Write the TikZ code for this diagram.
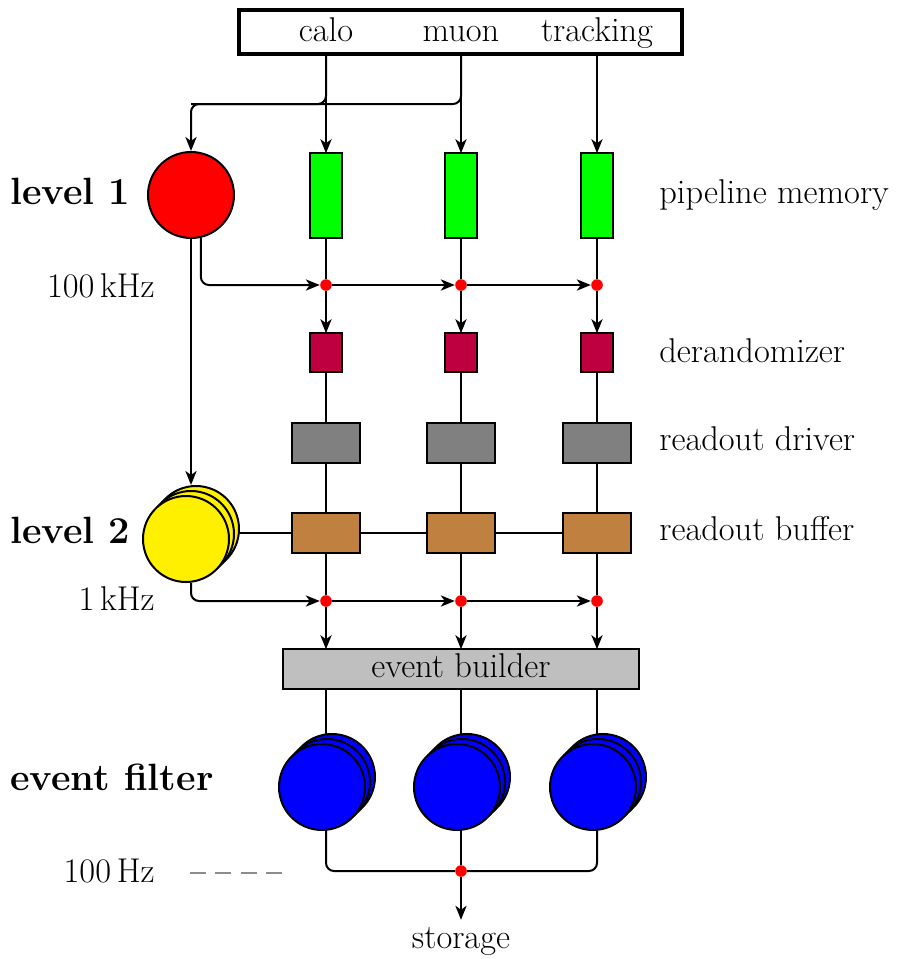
\documentclass[tikz,border=0pt]{standalone}
\usetikzlibrary{arrows.meta,shadows,backgrounds}
\definecolor{memgreen}{rgb}{0,1,0}
\definecolor{derandcol}{rgb}{0.75,0,0.25}
\definecolor{drivergray}{rgb}{0.5,0.5,0.5}
\definecolor{bufferbrown}{rgb}{0.75,0.5,0.25}
\definecolor{buildergray}{rgb}{0.75,0.75,0.75}
\definecolor{lvltwo}{rgb}{1,0.94,0}
\definecolor{filterblue}{rgb}{0,0,1}
\begin{document}
\begin{tikzpicture}[x=0.5pt,y=-0.5pt,
  font=\fontsize{17.2}{21}\selectfont,
  wire/.style={line width=1pt},
  flow/.style={wire,-{Stealth[length=7pt,width=5.6pt,inset=2pt]}},
  unit/.style={draw,line width=1.2pt,inner sep=0pt,outer sep=0pt},
  membox/.style={unit,fill=memgreen,minimum width=15.8pt,minimum height=42.3pt},
  derbox/.style={unit,fill=derandcol,minimum width=15.8pt,minimum height=19.3pt},
  rodbox/.style={unit,fill=drivergray,minimum width=33.8pt,minimum height=19.8pt},
  robbox/.style={unit,fill=bufferbrown,minimum width=33.8pt,minimum height=19.8pt},
  junction/.style={circle,fill=red,inner sep=0pt,minimum size=5.8pt},
  stagelabel/.style={anchor=base west,inner sep=0pt,font=\fontsize{19}{23}\selectfont\bfseries},
  rightlabel/.style={anchor=base west,inner sep=0pt},
  ratelabel/.style={anchor=base east,inner sep=0pt},
  trigger/.style={circle,draw,line width=1pt,minimum size=43pt,inner sep=0pt,fill=#1},
  farm/.style={trigger=#1,
    double copy shadow={shadow xshift=2.5pt,shadow yshift=2.5pt,
      fill=#1,draw=black,line width=1pt}},
]
\useasboundingbox (0,0) rectangle (896,959);

% detector sources
\node[draw,line width=2pt,minimum width=221.5pt,minimum height=22pt,inner sep=0pt] (src) at (460.5,32) {};
\node[anchor=base] (calo) at (326,41) {calo};
\node[anchor=base] (muon) at (461,41) {muon};
\node[anchor=base] (tracking) at (597,41) {tracking};

% trigger levels
\node[trigger=red] (l1) at (191,195) {};
\node[farm=lvltwo] (l2) at (186,539) {};
\coordinate (l2top) at (191,485);
\coordinate (fork) at (461,104);

% readout chain, one column per detector
\foreach \c/\x in {1/326,2/461,3/597}{
  \node[membox] (pm\c) at (\x,195.5) {};
  \node[junction] (da\c) at (\x,285) {};
  \node[derbox] (dr\c) at (\x,352.5) {};
  \node[rodbox] (rd\c) at (\x,443) {};
  \node[robbox] (rb\c) at (\x,533) {};
  \node[junction] (db\c) at (\x,601) {};
  \node[farm=filterblue] (ef\c) at (\x-4,787) {};
}
\node[unit,fill=buildergray,minimum width=177.8pt,minimum height=19.8pt,
  text height=12pt,text depth=3.5pt] (eb) at (461,669) {event builder};
\node[junction] (out) at (461,871) {};
\node[anchor=base] (storage) at (461,948) {storage};

% labels
\node[stagelabel] (t1) at (10,204) {level 1};
\node[stagelabel] (t2) at (10,543) {level 2};
\node[stagelabel] (t3) at (10,790) {event filter};
\node[ratelabel] (r1) at (155,297) {100\,kHz};
\node[ratelabel] (r2) at (155,610) {1\,kHz};
\node[ratelabel] (r3) at (155,882) {100\,Hz};
\node[rightlabel] (n1) at (659,203) {pipeline memory};
\node[rightlabel] (n2) at (659,362) {derandomizer};
\node[rightlabel] (n3) at (659,450) {readout driver};
\node[rightlabel] (n4) at (659,540) {readout buffer};
\coordinate (dashA) at (190,873);
\coordinate (dashB) at (282,873);

\begin{pgfonlayer}{background}
  % sources to level 1 and pipelines
  \draw[flow,rounded corners=4pt] (src.south -| muon) -- (fork) -| (l1.north);
  \draw[wire,rounded corners=4pt] (src.south -| calo) |- (fork -| l1);
  \draw[flow] (src.south -| calo) -- (pm1);
  \draw[flow] (src.south -| muon) -- (pm2);
  \draw[flow] (src.south -| tracking) -- (pm3);
  % level 1 accept
  \draw[flow,rounded corners=4pt] (l1.-77) |- (da1);
  \draw[flow] (da1) -- (da2);
  \draw[flow] (da2) -- (da3);
  \draw[flow] (l1.south) -- (l2top);
  % level 2
  \draw[wire] (rb1 -| l2) -- (rb1);
  \draw[wire] (rb1) -- (rb2);
  \draw[wire] (rb2) -- (rb3);
  \draw[flow,rounded corners=4pt] (l2top |- l2.south) |- (db1);
  \draw[flow] (db1) -- (db2);
  \draw[flow] (db2) -- (db3);
  \foreach \c in {1,2,3}{
    \draw[wire] (pm\c) -- (da\c);
    \draw[flow] (da\c) -- (dr\c);
    \draw[wire] (dr\c) -- (rd\c);
    \draw[wire] (rd\c) -- (rb\c);
    \draw[wire] (rb\c) -- (db\c);
    \draw[flow] (db\c) -- (db\c |- eb.north);
    \draw[wire] (eb.south -| da\c) -- (da\c |- ef\c.center);
  }
  % event filter to storage
  \draw[wire,rounded corners=4pt] (da1 |- ef1.center) |- (out);
  \draw[wire] (da2 |- ef2.center) -- (out);
  \draw[wire,rounded corners=4pt] (da3 |- ef3.center) |- (out);
  \draw[flow] (out) -- (storage);
\end{pgfonlayer}
\draw[gray!90,line width=1.2pt,dash pattern=on 8pt off 4.67pt] (dashA) -- (dashB);
\end{tikzpicture}
\end{document}
